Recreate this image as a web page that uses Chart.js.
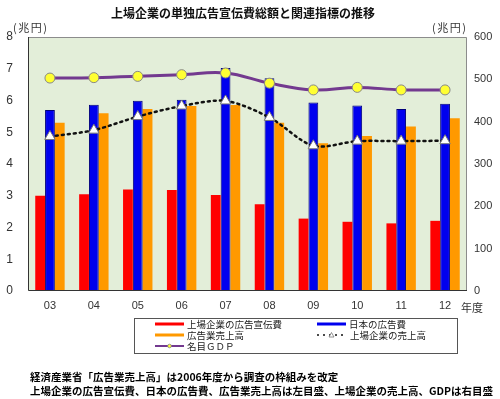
<!DOCTYPE html>
<html lang="ja">
<head>
  <meta charset="UTF-8">
  <title>上場企業の単独広告宣伝費総額と関連指標の推移</title>
  <script src="https://cdn.jsdelivr.net/npm/chart.js"></script>
  <style>
    html, body { margin: 0; padding: 0; background: #fff; }
    #wrap { width: 500px; height: 399px; position: relative; }
  </style>
</head>
<body>
  <div id="wrap"><canvas id="chart" width="500" height="399"></canvas></div>

  <script>
    // データ (兆円 / 右軸も兆円)
    const years = ['03', '04', '05', '06', '07', '08', '09', '10', '11', '12'];
    const listedAdSpend = [3.0, 3.05, 3.2, 3.18, 3.02, 2.73, 2.28, 2.18, 2.13, 2.21];
    const japanAdSpend  = [5.7, 5.87, 5.99, 6.02, 7.02, 6.7, 5.94, 5.84, 5.73, 5.9];
    const adIndustrySales = [5.3, 5.6, 5.73, 5.83, 5.86, 5.3, 4.65, 4.88, 5.18, 5.44];
    const listedSales = [365, 380, 412, 437, 449, 410, 343, 354, 354, 355];
    const nominalGdp  = [503, 504, 507, 511, 515, 491, 475, 481, 475, 475];
    const leftTicks = [0, 1, 2, 3, 4, 5, 6, 7, 8];
    const rightTicks = [0, 100, 200, 300, 400, 500, 600];

    const JP = '"Noto Sans CJK JP", sans-serif';
    const NUM = '"Liberation Sans", Arial, sans-serif';

    // 背景・枠・文字・凡例を描くプラグイン
    const decor = {
      id: 'decor',
      beforeDraw(chart) {
        const { ctx, chartArea: a } = chart;
        ctx.save();
        ctx.fillStyle = '#e3eed9';
        ctx.fillRect(a.left, a.top, a.right - a.left, a.bottom - a.top);
        ctx.restore();
      },
      afterDraw(chart) {
        const { ctx, chartArea: a } = chart;
        ctx.save();
        // 枠
        ctx.strokeStyle = '#8c8c8c';
        ctx.lineWidth = 1;
        ctx.beginPath();
        ctx.moveTo(a.left, a.top + 0.5); ctx.lineTo(a.right - 0.5, a.top + 0.5); ctx.lineTo(a.right - 0.5, a.bottom);
        ctx.stroke();
        ctx.strokeStyle = '#333';
        ctx.beginPath();
        ctx.moveTo(a.left + 0.5, a.top); ctx.lineTo(a.left + 0.5, a.bottom - 0.5); ctx.lineTo(a.right, a.bottom - 0.5);
        ctx.stroke();

        // タイトル
        ctx.fillStyle = '#111';
        ctx.textBaseline = 'middle';
        ctx.textAlign = 'center';
        ctx.font = 'bold 12px ' + JP;
        ctx.fillText('上場企業の単独広告宣伝費総額と関連指標の推移', 243, 13);

        // 単位
        ctx.font = '11px ' + JP;
        ctx.fillStyle = '#333';
        ctx.textAlign = 'left';
        ctx.letterSpacing = '1.5px';
        ctx.fillText('(兆円)', 13, 28);
        ctx.fillText('(兆円)', 432, 28);
        ctx.letterSpacing = '0px';
        ctx.fillText('年度', 461, 308);

        // 凡例
        const ds = chart.data.datasets;
        ctx.strokeStyle = '#555';
        ctx.lineWidth = 1;
        ctx.strokeRect(134.5, 318.5, 323, 35);
        ctx.font = '9.5px ' + JP;
        ctx.fillStyle = '#222';
        const items = [
          { d: ds[0], x: 155, y: 324 },
          { d: ds[1], x: 317, y: 324 },
          { d: ds[2], x: 155, y: 335 },
          { d: ds[3], x: 317, y: 335 },
          { d: ds[4], x: 155, y: 346 }
        ];
        items.forEach(it => {
          const d = it.d;
          const x0 = it.x, x1 = it.x + 29, y = it.y;
          ctx.save();
          if (d.type === 'bar') {
            ctx.strokeStyle = d.backgroundColor;
            ctx.lineWidth = 3;
            ctx.beginPath(); ctx.moveTo(x0, y); ctx.lineTo(x1, y); ctx.stroke();
          } else {
            ctx.strokeStyle = d.borderColor;
            ctx.lineWidth = d.borderDash ? 1.5 : 2;
            ctx.setLineDash(d.borderDash || []);
            ctx.beginPath(); ctx.moveTo(x0, y); ctx.lineTo(x1, y); ctx.stroke();
            ctx.setLineDash([]);
            const cx = (x0 + x1) / 2;
            ctx.fillStyle = d.pointBackgroundColor;
            ctx.strokeStyle = d.pointBorderColor;
            ctx.lineWidth = 0.8;
            ctx.beginPath();
            if (d.pointStyle === 'triangle') {
              ctx.moveTo(cx, y - 2.5); ctx.lineTo(cx + 2.5, y + 2); ctx.lineTo(cx - 2.5, y + 2); ctx.closePath();
            } else {
              ctx.arc(cx, y, 1.8, 0, Math.PI * 2);
            }
            ctx.fill(); ctx.stroke();
          }
          ctx.restore();
          ctx.fillText(d.label, x1 + (d.borderDash ? 4 : 3), y + 0.5);
        });

        // 注記
        ctx.font = 'bold 10.5px ' + JP;
        ctx.fillStyle = '#000';
        ctx.fillText('経済産業省「広告業売上高」は2006年度から調査の枠組みを改定', 30, 377);
        ctx.fillText('上場企業の広告宣伝費、日本の広告費、広告業売上高は左目盛、上場企業の売上高、GDPは右目盛', 30, 391);
        ctx.restore();
      }
    };

    new Chart(document.getElementById('chart'), {
      data: {
        labels: years,
        datasets: [
          { type: 'bar', label: '上場企業の広告宣伝費', data: listedAdSpend, yAxisID: 'y',
            backgroundColor: '#ff0000', borderWidth: 0, order: 2 },
          { type: 'bar', label: '日本の広告費', data: japanAdSpend, yAxisID: 'y',
            backgroundColor: '#0000ee', borderColor: '#00007a', borderWidth: 1, order: 2 },
          { type: 'bar', label: '広告業売上高', data: adIndustrySales, yAxisID: 'y',
            backgroundColor: '#ff9900', borderWidth: 0, order: 2 },
          { type: 'line', label: '上場企業の売上高', data: listedSales, yAxisID: 'y1',
            borderColor: '#111', borderWidth: 2.5, borderDash: [2, 4], borderCapStyle: 'round', tension: 0.3,
            pointStyle: 'triangle', pointRadius: 6, pointBackgroundColor: '#fff', pointBorderColor: '#777', pointBorderWidth: 1,
            order: 1 },
          { type: 'line', label: '名目ＧＤＰ', data: nominalGdp, yAxisID: 'y1',
            borderColor: '#73398f', borderWidth: 3, tension: 0.4,
            pointStyle: 'circle', pointRadius: 5, pointBackgroundColor: '#ffff33', pointBorderColor: '#888', pointBorderWidth: 1,
            order: 0 }
        ]
      },
      options: {
        responsive: false,
        animation: false,
        layout: { padding: { top: 37, left: 0, right: 0, bottom: 0 } },
        plugins: { legend: { display: false }, tooltip: { enabled: false }, title: { display: false } },
        datasets: { bar: { categoryPercentage: 0.67, barPercentage: 1 } },
        scales: {
          x: {
            grid: { display: false, drawTicks: false },
            border: { display: false },
            ticks: { color: '#333', font: { family: NUM, size: 11 }, padding: 8, maxRotation: 0 },
            afterFit(s) { s.height = 108; }
          },
          y: {
            position: 'left', min: 0, max: 8,
            grid: { display: false, drawTicks: false },
            border: { display: false },
            afterBuildTicks(s) { s.ticks = leftTicks.map(v => ({ value: v })); },
            ticks: { color: '#333', font: { family: NUM, size: 12 }, padding: 15 },
            afterFit(s) { s.width = 28; }
          },
          y1: {
            position: 'right', min: 0, max: 600,
            grid: { display: false, drawTicks: false },
            border: { display: false },
            afterBuildTicks(s) { s.ticks = rightTicks.map(v => ({ value: v })); },
            ticks: { color: '#333', font: { family: NUM, size: 11 }, padding: 7 },
            afterFit(s) { s.width = 33; }
          }
        }
      },
      plugins: [decor]
    });
  </script>
</body>
</html>
